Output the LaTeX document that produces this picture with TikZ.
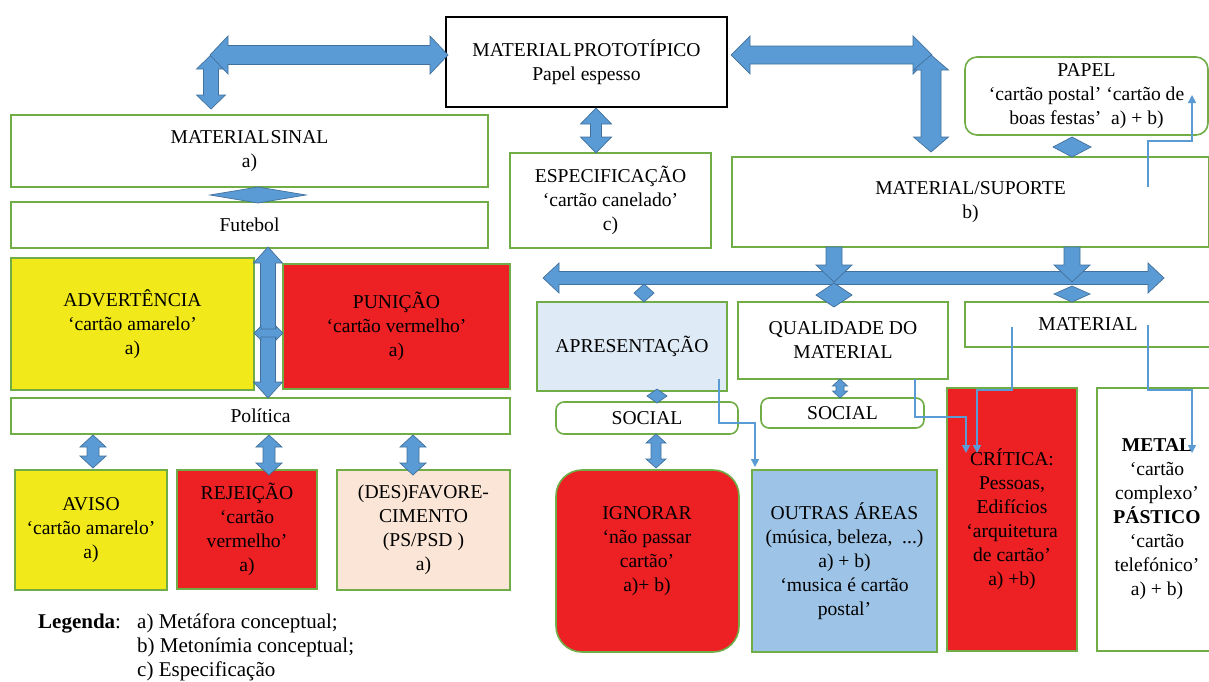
\documentclass[tikz,border=0pt]{standalone}
\usepackage{fontspec}
\setmainfont{Liberation Serif}
\usetikzlibrary{arrows.meta}
\definecolor{grn}{HTML}{70AD47}
\definecolor{barfill}{HTML}{5B9BD5}
\definecolor{barline}{HTML}{41719C}
\definecolor{cred}{HTML}{ED2024}
\definecolor{cyel}{HTML}{F1E91A}
\definecolor{cpeach}{HTML}{FBE5D6}
\definecolor{clblue}{HTML}{DEEBF7}
\definecolor{cmblue}{HTML}{9DC3E6}
\newcommand\myfs{\fontsize{19.6}{24}\selectfont}
\newcommand\legfs{\fontsize{21}{24}\selectfont}
\tikzset{
 gbox/.style={draw=grn, line width=1.6pt, inner sep=0pt, align=center, font=\myfs},
 pbox/.style={draw=black, line width=1.6pt, inner sep=0pt, align=center, font=\myfs},
 blockarr/.style={fill=barfill, draw=barline, line width=0.7pt, line join=miter},
 conn/.style={draw=barfill, line width=1.5pt, -{Triangle[length=8pt,width=8pt]}},
 lbl/.style={inner sep=0pt, align=center, font=\myfs},
 leg/.style={inner sep=0pt, anchor=base west, font=\legfs}
}
\newcommand\mybox[7]{\node[#2, minimum width={#5-#3}, minimum height={#6-#4}] (#1) at ({(#3+#5)/2},{(#4+#6)/2}) {#7};}
% x, ytop, ybot, shaft half, head half, head length
\newcommand\varr[6]{\filldraw[blockarr] ({#1-#4},{#2+#6}) -- ({#1-#5},{#2+#6}) -- (#1,#2) -- ({#1+#5},{#2+#6}) -- ({#1+#4},{#2+#6}) -- ({#1+#4},{#3-#6}) -- ({#1+#5},{#3-#6}) -- (#1,#3) -- ({#1-#5},{#3-#6}) -- ({#1-#4},{#3-#6}) -- cycle;}
% y, xleft, xright, shaft half, head half, head length
\newcommand\harr[6]{\filldraw[blockarr] ({#2+#6},{#1-#4}) -- ({#2+#6},{#1-#5}) -- (#2,#1) -- ({#2+#6},{#1+#5}) -- ({#2+#6},{#1+#4}) -- ({#3-#6},{#1+#4}) -- ({#3-#6},{#1+#5}) -- (#3,#1) -- ({#3-#6},{#1-#5}) -- ({#3-#6},{#1-#4}) -- cycle;}
% single down arrow
\newcommand\darr[6]{\filldraw[blockarr] ({#1-#4},#2) -- ({#1+#4},#2) -- ({#1+#4},{#3-#6}) -- ({#1+#5},{#3-#6}) -- (#1,#3) -- ({#1-#5},{#3-#6}) -- ({#1-#4},{#3-#6}) -- cycle;}
% x, y, half width, half height
\newcommand\diam[4]{\filldraw[blockarr] ({#1-#3},#2) -- (#1,{#2-#4}) -- ({#1+#3},#2) -- (#1,{#2+#4}) -- cycle;}
\begin{document}
\begin{tikzpicture}[x=1pt,y=-1pt]
\useasboundingbox (0,0) rectangle (1209,681);
\fill[white] (0,0) rectangle (1209,681);
% boxes
\mybox{proto}{pbox}{446}{17}{727}{107}{MATERIAL\hspace{2pt}PROTOTÍPICO\\Papel espesso}
\mybox{matsinal}{gbox}{11}{115}{488}{187}{MATERIAL\hspace{1pt}SINAL\\a)}
\mybox{futebol}{gbox}{11}{202}{488}{248}{Futebol}
\mybox{espec}{gbox}{510}{153}{711}{248}{ESPECIFICAÇÃO\\‘cartão canelado’\\c)}
\mybox{matsup}{gbox}{732}{157}{1209}{247}{MATERIAL/SUPORTE\\b)}
\mybox{papel}{gbox,rounded corners=12pt}{965}{57}{1208}{135}{PAPEL\\‘cartão postal’ ‘cartão de\\boas festas’~~a) + b)}
\mybox{advert}{gbox,fill=cyel}{11}{258}{254}{390}{ADVERTÊNCIA\\‘cartão amarelo’\\a)}
\mybox{punicao}{gbox,fill=cred}{283}{264}{510}{389}{PUNIÇÃO\\‘cartão vermelho’\\a)}
\mybox{politica}{gbox}{11}{398}{510}{434}{Política}
\mybox{aviso}{gbox,fill=cyel}{15}{470}{167}{590}{AVISO\\‘cartão amarelo’\\a)}
\mybox{rejeicao}{gbox,fill=cred}{177}{470}{317}{589}{REJEIÇÃO\\‘cartão\\vermelho’\\a)}
\mybox{desfav}{gbox,fill=cpeach}{337}{470}{510}{590}{(DES)FAVORE-\\CIMENTO\\(PS/PSD )\\a)}
\mybox{apres}{gbox,fill=clblue}{537}{302}{727}{391}{APRESENTAÇÃO}
\mybox{qualid}{gbox}{738}{302}{948}{379}{QUALIDADE DO\\MATERIAL}
\mybox{material}{gbox}{965}{302}{1211}{347}{MATERIAL}
\mybox{social1}{gbox,rounded corners=8pt}{556}{402}{738}{434}{SOCIAL}
\mybox{social2}{gbox,rounded corners=8pt}{761}{398}{924}{428}{SOCIAL}
\mybox{ignorar}{gbox,fill=cred,rounded corners=26pt}{556}{470}{739}{652}{}
\node[lbl] (ignorarT) at (647,551) {IGNORAR\\‘não passar\\cartão’\\a)+ b)};
\mybox{outras}{gbox,fill=cmblue}{752}{470}{937}{652}{OUTRAS ÁREAS\\(música, beleza,~ ...)\\a) + b)\\‘musica é cartão\\postal’}
\mybox{critica}{gbox,fill=cred}{947}{388}{1077}{651}{CRÍTICA:\\Pessoas,\\Edifícios\\‘arquitetura\\de cartão’\\a) +b)}
\mybox{metal}{gbox}{1097}{388}{1217}{651}{\textbf{METAL}\\‘cartão\\complexo’\\\textbf{PÁSTICO}\\‘cartão\\telefónico’\\a) + b)}
% block arrows
\varr{211}{55}{109}{7.5}{14.5}{14}
\harr{55}{210}{448}{9.5}{19}{18}
\harr{55}{731}{932}{9}{19}{19}
\varr{931}{55}{152}{10}{17.5}{15}
\varr{596}{108}{153}{5.5}{15.5}{16}
\diam{258}{195}{48}{8}
\varr{268}{247}{398}{7.5}{14.5}{16}
\harr{333}{254}{283}{4}{7}{7}
\varr{93}{435}{468}{6}{13}{12}
\varr{269}{435}{475}{6}{13}{12}
\varr{413}{435}{475}{6}{13}{12}
\harr{278}{543}{1164}{6.5}{15}{16}
\darr{834}{247}{282}{8}{18}{17}
\darr{1072}{247}{282}{8}{18}{17}
\diam{644}{293}{10}{9}
\diam{834}{295}{18}{12}
\diam{1072}{294}{18}{8}
\diam{657}{396}{10}{7}
\varr{840}{379}{398}{4}{7.5}{7}
\varr{656}{434}{468}{5}{10}{9}
\diam{1072}{147}{19}{10}
% thin connectors
\coordinate (c1a) at (719,379); \coordinate (c1m) at (737,423); \coordinate (c1b) at (755,467);
\coordinate (c2a) at (915,379); \coordinate (c2m) at (940,417); \coordinate (c2b) at (966,453);
\coordinate (c3a) at (1012,327); \coordinate (c3m) at (990,390); \coordinate (c3b) at (977,453);
\coordinate (c4a) at (1148,325); \coordinate (c4m) at (1170,390); \coordinate (c4b) at (1192,453);
\coordinate (c5a) at (1148,187); \coordinate (c5m) at (1170,141); \coordinate (c5b) at (1192,95);
\draw[conn] (c1a) |- (c1m) -| (c1b);
\draw[conn] (c2a) |- (c2m) -| (c2b);
\draw[conn] (c3a) |- (c3m) -| (c3b);
\draw[conn] (c4a) |- (c4m) -| (c4b);
\draw[conn] (c5a) |- (c5m) -| (c5b);
% legend
\node[leg] (legh) at (38,628) {\textbf{Legenda}:};
\node[leg] (lega) at (137,628) {a) Metáfora conceptual;};
\node[leg] (legb) at (137,652) {b) Metonímia conceptual;};
\node[leg] (legc) at (137,676) {c) Especificação};
\end{tikzpicture}
\end{document}
